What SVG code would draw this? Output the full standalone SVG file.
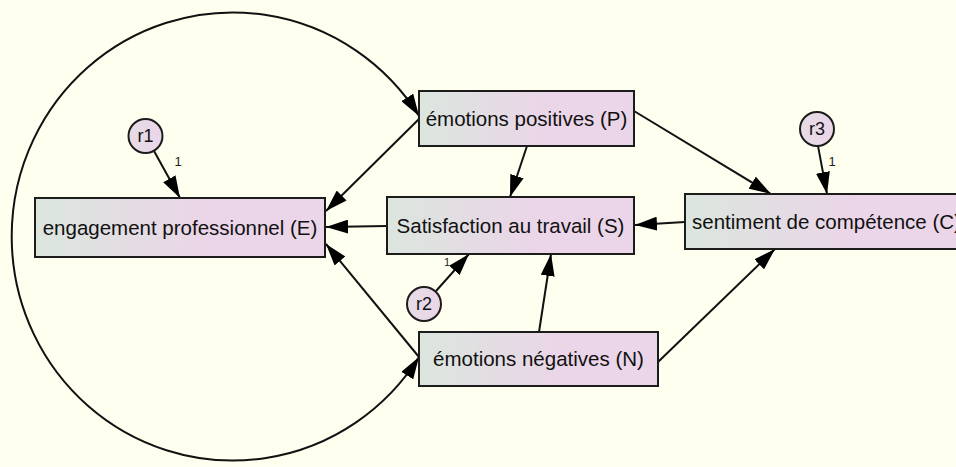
<svg xmlns="http://www.w3.org/2000/svg" width="956" height="467" viewBox="0 0 956 467">
  <style>
    .box { fill: url(#boxGrad); stroke: #1c1c1c; stroke-width: 2; }
    .err { fill: url(#errGrad); stroke: #1c1c1c; stroke-width: 2; }
    .lbl { font-family: "Liberation Sans", Arial, sans-serif; font-size: 20.5px; fill: #111; text-anchor: middle; }
    .elbl { font-family: "Liberation Sans", Arial, sans-serif; font-size: 18px; fill: #111; text-anchor: middle; }
    .w { font-family: "Liberation Sans", Arial, sans-serif; font-size: 13px; fill: #222; text-anchor: middle; }
    .edge { fill: none; stroke: #111; stroke-width: 2; marker-end: url(#arrow); }
  </style>
  <defs>
    <linearGradient id="boxGrad" x1="0" y1="0" x2="1" y2="0">
      <stop offset="0" stop-color="#DBE6DE"/>
      <stop offset="0.6" stop-color="#EBD5E8"/>
      <stop offset="1" stop-color="#EBD5E8"/>
    </linearGradient>
    <linearGradient id="errGrad" x1="0" y1="0" x2="1" y2="0">
      <stop offset="0" stop-color="#E6DCE6"/>
      <stop offset="1" stop-color="#EBD5E8"/>
    </linearGradient>
    <marker id="arrow" markerUnits="userSpaceOnUse" markerWidth="22" markerHeight="14" refX="22" refY="7" orient="auto">
      <path d="M0,0 L22,7 L0,14 z" fill="#000"/>
    </marker>
    <marker id="arrowStart" markerUnits="userSpaceOnUse" markerWidth="22" markerHeight="14" refX="22" refY="7" orient="auto-start-reverse">
      <path d="M0,0 L22,7 L0,14 z" fill="#000"/>
    </marker>
  </defs>

  <rect x="0" y="0" width="956" height="467" fill="#FFFFF0"/>

  <g id="connectors">
    <path d="M419,116 A221,224 0 1 0 419,357" fill="none" stroke="#111" stroke-width="2" marker-start="url(#arrowStart)" marker-end="url(#arrowStart)"/>
    <line class="edge" x1="154" y1="151" x2="180" y2="198"/>
    <line class="edge" x1="818" y1="146" x2="827" y2="194"/>
    <line class="edge" x1="436" y1="291" x2="469" y2="254"/>
    <line class="edge" x1="419" y1="119" x2="326" y2="211"/>
    <line class="edge" x1="387" y1="226" x2="326" y2="227"/>
    <line class="edge" x1="419" y1="357" x2="326" y2="244"/>
    <line class="edge" x1="527" y1="146" x2="510" y2="197"/>
    <line class="edge" x1="634" y1="111" x2="771" y2="194"/>
    <line class="edge" x1="685" y1="222" x2="635" y2="225"/>
    <line class="edge" x1="539" y1="332" x2="551" y2="254"/>
    <line class="edge" x1="658" y1="362" x2="775" y2="249"/>
    <text class="w" x="178" y="166">1</text>
    <text class="w" x="832" y="166">1</text>
    <text class="w" x="447" y="266" style="font-size:11px">1</text>
  </g>

  <g id="node-E">
    <rect class="box" x="35" y="198" width="290" height="59"/>
    <text class="lbl" x="180" y="235">engagement professionnel (E)</text>
  </g>
  <g id="node-P">
    <rect class="box" x="419" y="91" width="215" height="55"/>
    <text class="lbl" x="526.5" y="125.5">émotions positives (P)</text>
  </g>
  <g id="node-S">
    <rect class="box" x="387" y="197" width="247" height="57"/>
    <text class="lbl" x="510.5" y="233">Satisfaction au travail (S)</text>
  </g>
  <g id="node-C">
    <rect class="box" x="685" y="194" width="284" height="55"/>
    <text class="lbl" x="692" y="228.5" style="text-anchor:start">sentiment de compétence (C)</text>
  </g>
  <g id="node-N">
    <rect class="box" x="419" y="332" width="239" height="54"/>
    <text class="lbl" x="538.5" y="366">émotions négatives (N)</text>
  </g>
  <g id="node-r1">
    <circle class="err" cx="145.5" cy="136" r="17"/>
    <text class="elbl" x="145.5" y="142">r1</text>
  </g>
  <g id="node-r2">
    <circle class="err" cx="424" cy="304" r="17"/>
    <text class="elbl" x="424" y="310">r2</text>
  </g>
  <g id="node-r3">
    <circle class="err" cx="817" cy="129" r="17"/>
    <text class="elbl" x="817" y="135">r3</text>
  </g>
</svg>
